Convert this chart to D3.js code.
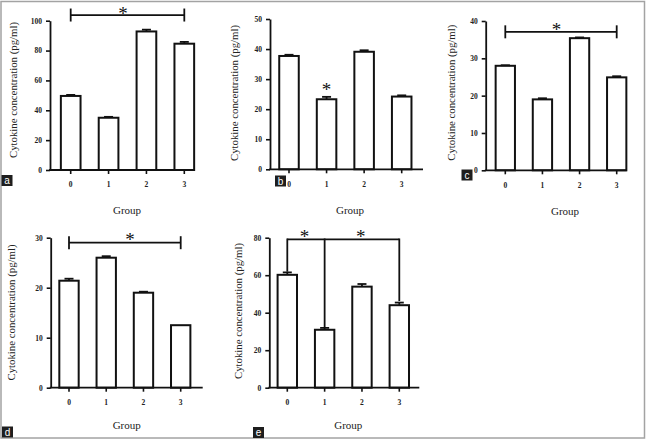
<!DOCTYPE html>
<html><head><meta charset="utf-8">
<script src="https://cdn.jsdelivr.net/npm/d3@7"></script>
<style>body{margin:0;background:#fff}svg{display:block}</style>
</head><body>
<svg id="chart" width="646" height="439"></svg>
<script>
// ---------- data ----------
const groups = ["0", "1", "2", "3"];
const valuesA = [49.6, 35.0, 92.8, 84.6];
const errorsA = [0.7, 0.6, 1.2, 1.2];
const valuesB = [37.7, 23.3, 39.1, 24.2];
const errorsB = [0.4, 0.8, 0.5, 0.4];
const valuesC = [28.0, 19.0, 35.4, 24.9];
const errorsC = [0.15, 0.3, 0.2, 0.3];
const valuesD = [21.4, 26.0, 19.0, 12.5];
const errorsD = [0.4, 0.3, 0.2, 0.0];
const valuesE = [60.2, 30.9, 53.9, 44.0];
const errorsE = [1.3, 1.0, 1.4, 1.4];
const ticksA = [0, 20, 40, 60, 80, 100];
const ticksB = [0, 10, 20, 30, 40, 50];
const ticksC = [0, 10, 20, 30, 40];
const ticksD = [0, 10, 20, 30];
const ticksE = [0, 20, 40, 60, 80];
const yLabel = "Cytokine concentration (pg/ml)";
const xLabel = "Group";
const letters = ["a", "b", "c", "d", "e"];
// significance annotations: bracket [from, to, level], drops, stars [position, level]
const bracketsA = [[0, 3, 103.8]];
const starsA = [[1.38, 106.5]];
const bracketsB = [];
const starsB = [[1, 27.3]];
const bracketsC = [[0, 3, 37.1]];
const starsC = [[1.38, 38.4]];
const bracketsD = [[0, 3, 29.0]];
const starsD = [[1.64, 30.2]];
const bracketsE = [[0, 3, 79.1]];
const dropsE = [[0, 61.9], [1, 32.2], [3, 46.2]];
const starsE = [[0.46, 81.8], [1.97, 81.8]];

// ---------- layout ----------
const panels = [
  {letter: letters[0], values: valuesA, errors: errorsA, ticks: ticksA, brackets: bracketsA, drops: [], stars: starsA,
   ox: 50, c0: 70.7, c3: 184.3, xEnd: 194, top: 20.7, zero: 170, lx: 13.3, ly: 90, gx: 127, gy: 210, box: [1.5, 175]},
  {letter: letters[1], values: valuesB, errors: errorsB, ticks: ticksB, brackets: bracketsB, drops: [], stars: starsB,
   ox: 270, c0: 289, c3: 401.7, xEnd: 423, top: 19, zero: 169.3, lx: 235, ly: 93, gx: 350, gy: 210, box: [275, 175.5]},
  {letter: letters[2], values: valuesC, errors: errorsC, ticks: ticksC, brackets: bracketsC, drops: [], stars: starsC,
   ox: 485.7, c0: 505.3, c3: 616.7, xEnd: 626.7, top: 21, zero: 170.3, lx: 451.7, ly: 92.7, gx: 565, gy: 210.7, box: [461.5, 169.5]},
  {letter: letters[3], values: valuesD, errors: errorsD, ticks: ticksD, brackets: bracketsD, drops: [], stars: starsD,
   ox: 50.7, c0: 69, c3: 180.7, xEnd: 202.7, top: 237.7, zero: 387.7, lx: 11.7, ly: 312.5, gx: 126.7, gy: 425, box: [2, 426.5]},
  {letter: letters[4], values: valuesE, errors: errorsE, ticks: ticksE, brackets: bracketsE, drops: dropsE, stars: starsE,
   ox: 269.3, c0: 287.3, c3: 399.3, xEnd: 419.3, top: 237.7, zero: 387.7, lx: 238.3, ly: 311, gx: 348.3, gy: 425, box: [253, 427]}
];

const svg = d3.select("#chart");
const serif = "'Liberation Serif','Times New Roman',serif";

svg.append("rect").attr("x", 1).attr("y", 1.5).attr("width", 643.5).attr("height", 436.5)
  .attr("fill", "none").attr("stroke", "#a3a3a3").attr("stroke-width", 1.5);

panels.forEach(p => {
  const g = svg.append("g");
  const step = (p.c3 - p.c0) / 3;
  const x = d3.scaleBand().domain(groups).range([p.c0 - step / 2, p.c3 + step / 2])
    .paddingInner(0.48).paddingOuter(0.24);
  const xl = d3.scaleLinear().domain([0, 3]).range([p.c0, p.c3]);
  const y = d3.scaleLinear().domain([0, d3.max(p.ticks)]).range([p.zero, p.top]);

  // bars
  g.selectAll(".bar").data(p.values).join("rect")
    .attr("x", (d, i) => x(groups[i])).attr("width", x.bandwidth())
    .attr("y", d => y(d)).attr("height", d => y(0) - y(d))
    .attr("fill", "#fff").attr("stroke", "#111").attr("stroke-width", 2);

  // error bars
  p.values.forEach((v, i) => {
    if (p.errors[i] <= 0) return;
    const cx = x(groups[i]) + x.bandwidth() / 2;
    g.append("line").attr("x1", cx).attr("x2", cx).attr("y1", y(v)).attr("y2", y(v + p.errors[i]))
      .attr("stroke", "#111").attr("stroke-width", 1.8);
    g.append("line").attr("x1", cx - 4.5).attr("x2", cx + 4.5).attr("y1", y(v + p.errors[i])).attr("y2", y(v + p.errors[i]))
      .attr("stroke", "#111").attr("stroke-width", 1.8);
  });

  // y axis
  const ya = g.append("g").attr("transform", `translate(${p.ox},0)`)
    .call(d3.axisLeft(y).tickValues(p.ticks).tickSize(4).tickSizeOuter(0).tickPadding(4).tickFormat(d => d));
  ya.select(".domain").attr("stroke", "#111").attr("stroke-width", 1.8);
  ya.selectAll(".tick line").attr("stroke", "#111").attr("stroke-width", 1.6);
  ya.selectAll(".tick text").attr("font-family", serif).attr("font-weight", "bold")
    .attr("font-size", 7.5).attr("fill", "#222");

  // x axis
  g.append("line").attr("x1", p.ox - 0.9).attr("x2", p.xEnd).attr("y1", p.zero).attr("y2", p.zero)
    .attr("stroke", "#111").attr("stroke-width", 1.8);
  const xa = g.append("g").attr("transform", `translate(0,${p.zero})`)
    .call(d3.axisBottom(x).tickSize(4).tickSizeOuter(0).tickPadding(8));
  xa.select(".domain").remove();
  xa.selectAll(".tick line").attr("stroke", "#111").attr("stroke-width", 1.6);
  xa.selectAll(".tick text").attr("font-family", serif).attr("font-weight", "bold")
    .attr("font-size", 7.5).attr("fill", "#222");

  // axis titles
  g.append("text").attr("transform", `translate(${p.lx},${p.ly}) rotate(-90)`)
    .attr("text-anchor", "middle").attr("dy", "0.32em")
    .attr("font-family", serif).attr("font-size", 10.8).attr("fill", "#222").text(yLabel);
  g.append("text").attr("x", p.gx).attr("y", p.gy).attr("dy", "0.35em").attr("text-anchor", "middle")
    .attr("font-family", serif).attr("font-size", 11).attr("fill", "#222").text(xLabel);

  // brackets
  p.brackets.forEach(([a, b, lv]) => {
    const yy = y(lv);
    g.append("line").attr("x1", xl(a)).attr("x2", xl(b)).attr("y1", yy).attr("y2", yy)
      .attr("stroke", "#111").attr("stroke-width", 1.8);
    if (!p.drops.length) {
      [a, b].forEach(k => g.append("line").attr("x1", xl(k)).attr("x2", xl(k))
        .attr("y1", yy - 6.5).attr("y2", yy + 6.5).attr("stroke", "#111").attr("stroke-width", 1.8));
    }
  });
  p.drops.forEach(([k, lv]) => {
    g.append("line").attr("x1", xl(k)).attr("x2", xl(k)).attr("y1", y(p.brackets[0][2]) - 0.9).attr("y2", y(lv))
      .attr("stroke", "#111").attr("stroke-width", 1.8);
  });
  p.stars.forEach(([k, lv]) => {
    g.append("text").attr("x", xl(k)).attr("y", y(lv) + 9).attr("text-anchor", "middle")
      .attr("font-family", serif).attr("font-size", 19).attr("fill", "#111").text("*");
  });

  // panel letter box
  g.append("rect").attr("x", p.box[0]).attr("y", p.box[1]).attr("width", 11).attr("height", 11).attr("fill", "#1e1e1e");
  g.append("text").attr("x", p.box[0] + 5.5).attr("y", p.box[1] + 5.5).attr("dy", "0.35em")
    .attr("text-anchor", "middle").attr("font-family", "'Liberation Sans',Arial,sans-serif")
    .attr("font-size", 10).attr("fill", "#fff").text(p.letter);
});
</script>
</body></html>
